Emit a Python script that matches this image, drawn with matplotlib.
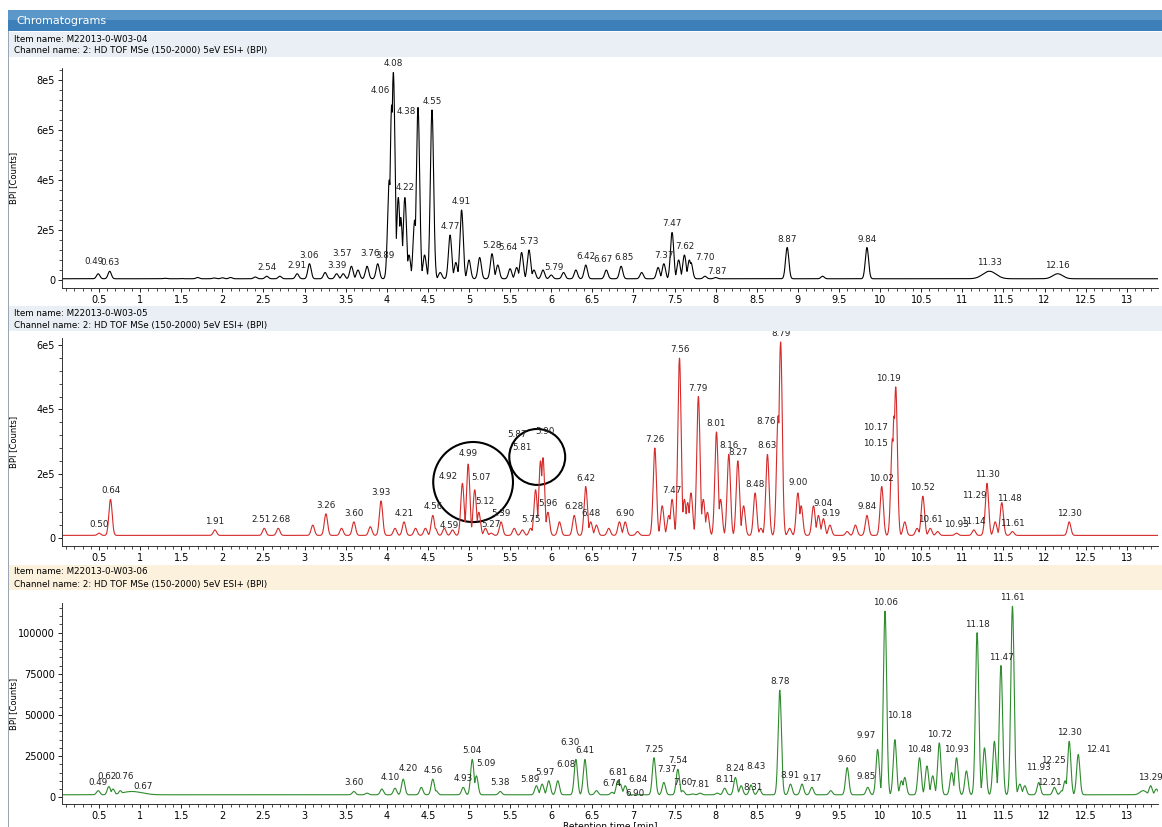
import numpy as np
import matplotlib
matplotlib.use('Agg')
import matplotlib.pyplot as plt
from matplotlib.patches import Rectangle, Ellipse
from matplotlib.ticker import MultipleLocator

# Sample names shown in the panel headers
item_names = ['M22013-0-W03-04', 'M22013-0-W03-05', 'M22013-0-W03-06']
channel_name = 'Channel name: 2: HD TOF MSe (150-2000) 5eV ESI+ (BPI)'

# Peaks: retention time, height, labelled ones
rt_04 = [0.49, 0.63, 1.3, 1.5, 1.7, 1.9, 2.0, 2.1, 2.4, 2.54, 2.7, 2.91, 3.06, 3.25, 3.39, 3.47,
         3.57, 3.65, 3.76, 3.89, 4.03, 4.06, 4.08, 4.14, 4.17, 4.22, 4.27, 4.34, 4.38, 4.46,
         4.55, 4.65, 4.77, 4.84, 4.91, 5.0, 5.13, 5.28, 5.35, 5.5, 5.58, 5.64, 5.73, 5.79,
         5.9, 6.0, 6.15, 6.3, 6.42, 6.67, 6.85, 7.1, 7.3, 7.37, 7.47, 7.55, 7.62, 7.68, 7.70,
         7.87, 8.0, 8.87, 9.3, 9.84, 11.33, 12.16]
h_04 = [2.5e4, 3.5e4, 0.7e4, 0.6e4, 1e4, 0.8e4, 0.9e4, 1e4, 1.2e4, 1.5e4, 1.5e4, 2.5e4, 6.5e4,
        3e4, 2.5e4, 2.5e4, 5.5e4, 4e4, 5.5e4, 6.5e4, 4.0e5, 7.0e5, 8.3e5, 3.3e5, 2.5e5, 3.3e5,
        1.0e5, 2.4e5, 6.9e5, 1.0e5, 6.8e5, 3e4, 1.8e5, 7e4, 2.8e5, 8e4, 9e4, 1.05e5, 6e4,
        4.5e4, 5e4, 1.1e5, 1.2e5, 4e4, 4e4, 2e4, 3e4, 4e4, 6e4, 4e4, 5.5e4, 3e4, 5e4, 6.5e4,
        1.9e5, 8e4, 1.0e5, 8e4, 7e4, 1.5e4, 1e4, 1.3e5, 1.5e4, 1.3e5, 3.5e4, 2.5e4]
lab_04 = [0.49, 0.63, 2.54, 2.91, 3.06, 3.39, 3.57, 3.76, 3.89, 4.06, 4.08, 4.22, 4.38, 4.55,
          4.77, 4.91, 5.28, 5.64, 5.73, 5.79, 6.42, 6.67, 6.85, 7.37, 7.47, 7.62, 7.70, 7.87,
          8.87, 9.84, 11.33, 12.16]

rt_05 = [0.50, 0.64, 1.91, 2.51, 2.68, 3.1, 3.26, 3.45, 3.60, 3.8, 3.93, 4.1, 4.21, 4.35, 4.47,
         4.56, 4.59, 4.7, 4.8, 4.92, 4.99, 5.07, 5.12, 5.2, 5.27, 5.39, 5.55, 5.65, 5.75, 5.81,
         5.87, 5.90, 5.96, 6.1, 6.28, 6.42, 6.48, 6.55, 6.7, 6.83, 6.90, 7.05, 7.26, 7.35, 7.43,
         7.47, 7.56, 7.62, 7.66, 7.7, 7.79, 7.85, 7.9, 8.01, 8.06, 8.16, 8.27, 8.34, 8.48, 8.55,
         8.63, 8.76, 8.79, 8.9, 9.00, 9.04, 9.19, 9.25, 9.31, 9.39, 9.6, 9.7, 9.84, 10.02, 10.15,
         10.17, 10.19, 10.3, 10.45, 10.52, 10.61, 10.7, 10.93, 11.14, 11.29, 11.30, 11.4, 11.48,
         11.61, 12.30]
h_05 = [1.5e4, 1.2e5, 2.5e4, 3e4, 3e4, 4e4, 7.5e4, 3e4, 5e4, 3.5e4, 1.15e5, 3e4, 5e4, 3e4, 3e4,
        7e4, 3e4, 3e4, 2.5e4, 1.7e5, 2.3e5, 1.5e5, 8e4, 3e4, 1.5e4, 5e4, 3e4, 2.5e4, 3e4, 1.5e5,
        2.4e5, 2.5e5, 8e4, 5e4, 7e4, 1.6e5, 5e4, 4e4, 3e4, 5e4, 5e4, 2e4, 2.8e5, 1e5, 7e4,
        1.2e5, 5.6e5, 1.2e5, 1.1e5, 1.4e5, 4.4e5, 1.2e5, 8e4, 3.3e5, 1.2e5, 2.6e5, 2.4e5, 1.0e5,
        1.4e5, 3e4, 2.6e5, 3.8e5, 6.1e5, 3e4, 1.4e5, 1e5, 1.0e5, 7e4, 6e4, 4e4, 2e4, 4e4, 7e4,
        1.6e5, 3.1e5, 3.8e5, 4.7e5, 5e4, 3e4, 1.3e5, 3e4, 2e4, 1.5e4, 2.5e4, 1.0e5, 1.7e5, 5e4,
        1.1e5, 2e4, 5e4]
lab_05 = [0.50, 0.64, 1.91, 2.51, 2.68, 3.26, 3.60, 3.93, 4.21, 4.56, 4.59, 4.92, 4.99, 5.07,
          5.12, 5.27, 5.39, 5.75, 5.81, 5.87, 5.90, 5.96, 6.28, 6.42, 6.48, 6.90, 7.26, 7.47,
          7.56, 7.79, 8.01, 8.16, 8.27, 8.48, 8.63, 8.76, 8.79, 9.00, 9.04, 9.19, 9.84, 10.02,
          10.15, 10.17, 10.19, 10.52, 10.61, 10.93, 11.14, 11.29, 11.30, 11.48, 11.61, 12.30]

rt_06 = [0.49, 0.62, 0.67, 0.76, 0.9, 3.60, 3.76, 3.94, 4.10, 4.20, 4.42, 4.56, 4.6, 4.93, 5.04,
         5.09, 5.38, 5.56, 5.82, 5.89, 5.97, 6.08, 6.30, 6.41, 6.55, 6.74, 6.81, 6.84, 6.90, 7.25,
         7.37, 7.54, 7.60, 7.72, 7.81, 8.02, 8.11, 8.24, 8.31, 8.43, 8.53, 8.78, 8.91, 9.05, 9.17,
         9.4, 9.60, 9.85, 9.97, 10.06, 10.18, 10.26, 10.3, 10.48, 10.57, 10.64, 10.72, 10.87,
         10.93, 11.05, 11.18, 11.27, 11.39, 11.47, 11.61, 11.7, 11.76, 11.93, 12.12, 12.21,
         12.25, 12.30, 12.41, 13.2, 13.29, 13.36]
h_06 = [4000, 6500, 5000, 4000, 3500, 3500, 2500, 5000, 5500, 11000, 6000, 11000, 4000, 6000,
        23000, 13000, 3500, 1500, 7000, 8000, 10000, 10000, 23000, 23000, 4000, 3000, 10000,
        8000, 7000, 24000, 9000, 17000, 4000, 2000, 2500, 2500, 5500, 12000, 7000, 7500, 5000,
        65000, 8000, 8000, 6000, 4000, 18000, 6000, 29000, 113000, 35000, 10000, 12000, 24000,
        19000, 13000, 33000, 15000, 24000, 16000, 100000, 30000, 34000, 80000, 116000, 8000,
        7000, 9000, 6000, 4000, 10000, 34000, 26000, 4000, 7000, 5000]
lab_06 = [0.49, 0.62, 0.67, 0.76, 3.60, 4.10, 4.20, 4.56, 4.93, 5.04, 5.09, 5.38, 5.89, 5.97,
          6.08, 6.30, 6.41, 6.74, 6.81, 6.84, 6.90, 7.25, 7.37, 7.54, 7.60, 7.81, 8.11, 8.24,
          8.31, 8.43, 8.78, 8.91, 9.17, 9.60, 9.85, 9.97, 10.06, 10.18, 10.48, 10.72, 10.93,
          11.18, 11.47, 11.61, 11.93, 12.21, 12.25, 12.30, 12.41, 13.29]

# label nudges in pixels (dx, dy)
nudge_04 = {4.06: (-11, 6), 4.08: (0, 0), 4.38: (-12, -12), 3.57: (-9, 4), 3.76: (3, 4),
            3.89: (7, 0), 5.64: (-14, -4), 5.79: (20, -6), 7.70: (14, -4), 7.87: (12, -4),
            4.22: (0, 2), 6.67: (-3, 2), 6.85: (3, 0), 0.49: (-4, 4)}
nudge_05 = {4.92: (-14, -2), 4.59: (14, -6), 5.81: (-14, 34), 5.87: (-24, 18), 5.90: (2, 18),
            8.76: (-12, -14), 10.15: (-17, -14), 10.17: (-19, -20), 10.19: (-7, 0),
            9.04: (22, -6), 9.19: (18, -16), 11.29: (-12, 2), 11.48: (8, -4), 5.12: (6, 2),
            5.07: (6, 4), 9.00: (0, 2), 4.99: (0, 2), 2.51: (-3, 0), 2.68: (3, 0)}
nudge_06 = {0.67: (30, -6), 0.76: (4, 6), 0.62: (-2, 2), 5.09: (10, 4), 5.89: (-12, -4),
            5.97: (-4, 0), 6.08: (8, 8), 6.30: (-6, 8), 6.84: (18, -4), 6.90: (10, -16),
            7.37: (3, 4), 8.31: (12, -10), 8.43: (5, 10), 9.97: (-12, 6), 10.18: (5, 16),
            11.93: (0, 6), 12.21: (-12, 0), 12.25: (-12, 12), 12.41: (20, -4), 4.10: (-5, 2),
            4.20: (5, 2), 9.85: (-2, 2)}

broad = {11.33: 0.08, 12.16: 0.06, 0.9: 0.12, 13.2: 0.04}

yticks_04 = [0, 2e5, 4e5, 6e5, 8e5]
ylabels_04 = ['0', '2e5', '4e5', '6e5', '8e5']
yticks_05 = [0, 2e5, 4e5, 6e5]
ylabels_05 = ['0', '2e5', '4e5', '6e5']
yticks_06 = [0, 25000, 50000, 75000, 100000]
ylabels_06 = ['0', '25000', '50000', '75000', '100000']


def trace(rts, hs, base):
    t = np.linspace(0.0, 13.42, 6000)
    y = np.full_like(t, float(base))
    for r, h in zip(rts, hs):
        s = broad.get(r, 0.02)
        y = np.maximum(y, base + (h - base) * np.exp(-0.5 * ((t - r) / s) ** 2))
    return t, y


W, H = 1162, 827
fig = plt.figure(figsize=(W / 100, H / 100), dpi=100)
fig.patch.set_facecolor('white')


def fy(py):
    return 1 - py / H


# window title bar
fig.patches.append(Rectangle((8 / W, fy(31)), 1, 21 / H, transform=fig.transFigure,
                             facecolor='#3d7fb8', edgecolor='none'))
fig.patches.append(Rectangle((8 / W, fy(20)), 1, 10 / H, transform=fig.transFigure,
                             facecolor='#5b97c8', edgecolor='none'))
fig.text(16 / W, fy(21), 'Chromatograms', color='white', fontsize=8, va='center')
fig.patches.append(Rectangle((8 / W, 0), 1 / W, fy(31), transform=fig.transFigure,
                             facecolor='#9aa7b3', edgecolor='none'))

panels = [
    (item_names[0], 32, '#e9eff4', (68, 288), (-3.2e4, 8.48e5), rt_04, h_04, lab_04, nudge_04,
     yticks_04, ylabels_04, 'black', 5000),
    (item_names[1], 306, '#e9eff4', (338, 546), (-2.5e4, 6.22e5), rt_05, h_05, lab_05, nudge_05,
     yticks_05, ylabels_05, '#d42a2a', 8000),
    (item_names[2], 565, '#fbf1dc', (603, 804), (-4100, 118000), rt_06, h_06, lab_06, nudge_06,
     yticks_06, ylabels_06, '#2e8b2e', 1500),
]

axes = []
for (name, hy, hcol, (top, bot), ylim, rts, hs, labs, nudge, yt, yl, col, base) in panels:
    fig.patches.append(Rectangle((9 / W, fy(hy + 25)), 1, 25 / H, transform=fig.transFigure,
                                 facecolor=hcol, edgecolor='none'))
    fig.text(14 / W, fy(hy + 7), 'Item name: ' + name, fontsize=6.3, va='center')
    fig.text(14 / W, fy(hy + 19), channel_name, fontsize=6.3, va='center')

    ax = fig.add_axes([62 / W, fy(bot), 1096 / W, (bot - top) / H])
    t, y = trace(rts, hs, base)
    ax.plot(t, y, color=col, lw=0.8)
    ax.set_xlim(0.05, 13.38)
    ax.set_ylim(*ylim)
    ax.set_yticks(yt)
    ax.set_yticklabels(yl)
    ax.yaxis.set_minor_locator(MultipleLocator(yt[1] / 5))
    ax.xaxis.set_major_locator(MultipleLocator(0.5))
    ax.xaxis.set_minor_locator(MultipleLocator(0.1))
    ax.xaxis.set_major_formatter(matplotlib.ticker.FuncFormatter(lambda v, p: '%g' % v))
    ax.tick_params(labelsize=7, length=3, width=0.6, pad=2)
    ax.tick_params(which='minor', length=2, width=0.5)
    for s in ['top', 'right']:
        ax.spines[s].set_visible(False)
    for s in ['left', 'bottom']:
        ax.spines[s].set_linewidth(0.7)
        ax.spines[s].set_color('#333333')
    ax.set_ylabel('BPI [Counts]', fontsize=6)
    ax.yaxis.set_label_coords(-0.04, 0.5)
    for r in labs:
        h = hs[rts.index(r)]
        dx, dy = nudge.get(r, (0, 0))
        ax.annotate('%.2f' % r, (r, h), xytext=(dx, dy + 4), textcoords='offset pixels',
                    ha='center', va='bottom', fontsize=6.3, color='#222222')
    axes.append(ax)

# highlight circles on the middle trace
axes[1].add_patch(Ellipse((5.05, 1.74e5), 0.97, 2.49e5, fill=False, lw=1.5, color='black',
                          clip_on=False))
axes[1].add_patch(Ellipse((5.83, 2.52e5), 0.68, 1.74e5, fill=False, lw=1.5, color='black',
                          clip_on=False))

axes[2].set_xlabel('Retention time [min]', fontsize=6.5, labelpad=0)

fig.savefig('out.png', dpi=100)
